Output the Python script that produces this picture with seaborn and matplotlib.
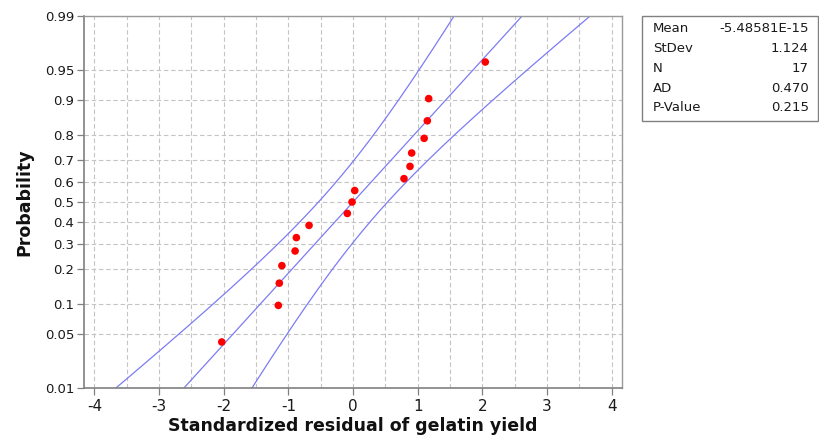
import numpy as np
import pandas as pd
import matplotlib
matplotlib.use("Agg")
import matplotlib.pyplot as plt
import seaborn as sns
from statistics import NormalDist
from matplotlib.ticker import FixedLocator, MultipleLocator

# ---- data ----
residuals = [-2.03, -1.155, -1.14, -1.10, -0.896, -0.876, -0.68, -0.088, -0.015,
             0.026, 0.788, 0.881, 0.907, 1.10, 1.149, 1.17, 2.045]
probabilities = [0.040, 0.098, 0.155, 0.213, 0.270, 0.328, 0.385, 0.443, 0.500,
                 0.557, 0.615, 0.672, 0.730, 0.787, 0.845, 0.902, 0.960]
prob_ticks = [0.01, 0.05, 0.1, 0.2, 0.3, 0.4, 0.5, 0.6, 0.7, 0.8, 0.9, 0.95, 0.99]
prob_tick_labels = ["0.01", "0.05", "0.1", "0.2", "0.3", "0.4", "0.5", "0.6",
                    "0.7", "0.8", "0.9", "0.95", "0.99"]
x_ticks = [-4, -3, -2, -1, 0, 1, 2, 3, 4]
stat_names = ["Mean", "StDev", "N", "AD", "P-Value"]
stat_values = ["-5.48581E-15", "1.124", "17", "0.470", "0.215"]
mean_val = 0.0
stdev_val = 1.124
n_val = 17

nd = NormalDist()
_ppf = np.vectorize(nd.inv_cdf, otypes=[float])
_cdf = np.vectorize(nd.cdf, otypes=[float])

def fwd(p):
    p = np.asarray(p, dtype=float)
    return _ppf(np.clip(p, 1e-12, 1 - 1e-12))

def inv(z):
    return _cdf(np.asarray(z, dtype=float))

sns.set_style("white")
fig = plt.figure(figsize=(8.19, 4.44), dpi=100)
ax = fig.add_axes([0.1026, 0.1261, 0.6569, 0.8379])
ax.set_yscale("function", functions=(fwd, inv))

# fitted line and confidence bands
zgrid = np.linspace(-3.2, 3.2, 200)
pgrid = inv(zgrid)
fit = mean_val + stdev_val * zgrid
half = 1.96 * stdev_val * np.sqrt(1.0 / n_val + zgrid ** 2 / (2 * (n_val - 1)))
line_col = "#7c7cf4"
for xs in (fit - half, fit, fit + half):
    sns.lineplot(x=xs, y=pgrid, sort=False, estimator=None, color=line_col,
                 lw=0.9, ax=ax)

df = pd.DataFrame({"resid": residuals, "prob": probabilities})
sns.scatterplot(data=df, x="resid", y="prob", color="#ff0000", s=30,
                edgecolor="none", ax=ax, zorder=5)

ax.set_xlim(-4.16, 4.16)
ax.set_ylim(0.01, 0.99)
ax.yaxis.set_major_locator(FixedLocator(prob_ticks))
ax.set_yticklabels(prob_tick_labels)
ax.yaxis.set_minor_locator(FixedLocator([]))
ax.set_xticks(x_ticks)
ax.set_xticklabels([str(t) for t in x_ticks])
ax.xaxis.set_minor_locator(MultipleLocator(0.5))

ax.grid(True, which="both", axis="x", color="#c4c4c4", linestyle=(0, (4, 2.5)), lw=0.8)
ax.grid(True, which="major", axis="y", color="#c4c4c4", linestyle=(0, (4, 2.5)), lw=0.8)
ax.set_axisbelow(True)

for side in ["left", "bottom"]:
    ax.spines[side].set_color("#808080")
    ax.spines[side].set_linewidth(1.2)
for side in ["top", "right"]:
    ax.spines[side].set_color("#9a9a9a")
    ax.spines[side].set_linewidth(1.0)

ax.tick_params(axis="both", which="major", direction="out", length=5, width=0.9,
               color="#808080", left=True, bottom=True)
ax.tick_params(axis="x", which="minor", length=0)
ax.tick_params(axis="y", labelsize=9.5, labelcolor="#1a1a1a", pad=2)
ax.tick_params(axis="x", labelsize=11, labelcolor="#1a1a1a", pad=3)

ax.set_xlabel("Standardized residual of gelatin yield", fontsize=12.5,
              fontweight="bold", labelpad=2, color="#111111")
ax.set_ylabel("Probability", fontsize=12.5, fontweight="bold", labelpad=8,
              color="#111111")

# statistics box
bx0, by0, bx1, by1 = 642 / 819, 1 - 121 / 444, 818 / 819, 1 - 16 / 444
rect = plt.Rectangle((bx0, by0), bx1 - bx0, by1 - by0, transform=fig.transFigure,
                     fill=False, edgecolor="#808080", lw=1.0)
fig.add_artist(rect)
rows_y = [29, 48.5, 68, 88, 107.5]
for name, val, yy in zip(stat_names, stat_values, rows_y):
    fig.text(653 / 819, 1 - yy / 444, name, fontsize=9.5, va="center", ha="left",
             color="#1a1a1a")
    fig.text(809 / 819, 1 - yy / 444, val, fontsize=9.5, va="center", ha="right",
             color="#1a1a1a")

fig.savefig("out.png", dpi=100)
